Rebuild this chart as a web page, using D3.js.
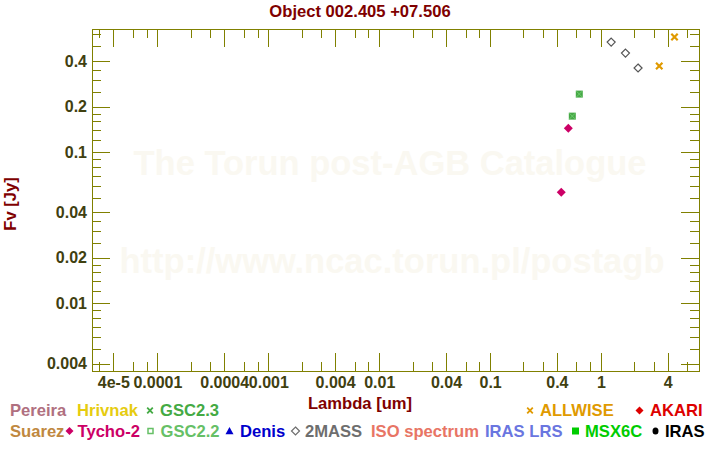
<!DOCTYPE html>
<html>
<head>
<meta charset="utf-8">
<script src="https://cdn.jsdelivr.net/npm/d3@7"></script>
<style>
  html, body { margin: 0; padding: 0; background: #ffffff; }
  svg { display: block; }
  text { font-family: "Liberation Sans", Arial, sans-serif; font-weight: bold; }
</style>
</head>
<body>
<svg id="chart" width="720" height="450"></svg>
<script>
// ---------------- data ----------------
const titleText = "Object 002.405 +07.506";
const xLabel = "Lambda [um]";
const yLabel = "Fv [Jy]";

// 2MASS (J, H, K)
const twoMassWl   = [1.235, 1.662, 2.159];
const twoMassFlux = [0.534, 0.452, 0.360];
// ALLWISE
const allwiseWl   = [3.35, 4.6];
const allwiseFlux = [0.371, 0.577];
// GSC2.3 and GSC2.2 (same points)
const gsc23Wl   = [0.551, 0.637];
const gsc23Flux = [0.173, 0.242];
const gsc22Wl   = [0.551, 0.637];
const gsc22Flux = [0.173, 0.242];
// Tycho-2
const tychoWl   = [0.438, 0.507];
const tychoFlux = [0.0543, 0.144];

// ticks
const xMajorTicks = [4e-5, 1e-4, 4e-4, 1e-3, 4e-3, 0.01, 0.04, 0.1, 0.4, 1, 4];
const xTickLabels = ["4e-5", "0.0001", "0.0004", "0.001", "0.004", "0.01", "0.04", "0.1", "0.4", "1", "4"];
const xMinorTicks = [3e-5, 6e-5, 8e-5, 2e-4, 3e-4, 6e-4, 8e-4, 2e-3, 3e-3, 6e-3, 8e-3,
                     0.02, 0.03, 0.06, 0.08, 0.2, 0.3, 0.6, 0.8, 2, 3, 6];
const yMajorTicks = [0.004, 0.01, 0.02, 0.04, 0.1, 0.2, 0.4];
const yTickLabels = ["0.004", "0.01", "0.02", "0.04", "0.1", "0.2", "0.4"];
const yMinorTicks = [0.005, 0.006, 0.007, 0.008, 0.009, 0.012, 0.014, 0.016, 0.018,
                     0.025, 0.03, 0.035, 0.05, 0.06, 0.07, 0.08, 0.09,
                     0.12, 0.14, 0.16, 0.18, 0.25, 0.3, 0.35, 0.5, 0.6];

// legend
const legendRow1Left  = ["Pereira", "Hrivnak", "GSC2.3"];
const legendRow1Right = ["ALLWISE", "AKARI"];
const legendRow2 = ["Suarez", "Tycho-2", "GSC2.2", "Denis", "2MASS", "ISO spectrum", "IRAS LRS", "MSX6C", "IRAS"];

const watermark1 = "The Torun post-AGB Catalogue";
const watermark2 = "http://www.ncac.torun.pl/postagb";

// ---------------- styles / layout ----------------
const W = 720, H = 450;
const plot = { left: 92, right: 699, top: 29, bottom: 371 };
const frameColor = "#808000";
const tickLabelColor = "#404010";
const titleColor = "#800000";
const fontSize = "16.6px";
const tickFontSize = "16px";

const legendStyle = {
  "Pereira":      { color: "#b07080", sym: null },
  "Hrivnak":      { color: "#e6cc10", sym: null },
  "GSC2.3":       { color: "#44aa44", sym: "x" },
  "ALLWISE":      { color: "#e09a00", sym: "x" },
  "AKARI":        { color: "#dd0000", sym: "diamond" },
  "Suarez":       { color: "#c08840", sym: null },
  "Tycho-2":      { color: "#cc0066", sym: "diamond" },
  "GSC2.2":       { color: "#66c066", sym: "square" },
  "Denis":        { color: "#0000cc", sym: "triangle" },
  "2MASS":        { color: "#6e6e6e", sym: "odiamond" },
  "ISO spectrum": { color: "#e87565", sym: null },
  "IRAS LRS":     { color: "#6a76e0", sym: null },
  "MSX6C":        { color: "#00cc00", sym: "fsquare" },
  "IRAS":         { color: "#000000", sym: "circle" }
};
// text start x and marker centre x for legend items
const legendLayout = {
  "Pereira": [10, null], "Hrivnak": [77, null], "GSC2.3": [160, 150],
  "ALLWISE": [540, 530], "AKARI": [650, 639.5],
  "Suarez": [10, null], "Tycho-2": [77.5, 69.5], "GSC2.2": [160.5, 150.5],
  "Denis": [240, 229.5], "2MASS": [305, 295.5], "ISO spectrum": [371, null],
  "IRAS LRS": [485, null], "MSX6C": [585, 575.5], "IRAS": [665, 655.5]
};

// ---------------- drawing ----------------
const svg = d3.select("#chart");

const x = d3.scaleLog().domain([2.57e-5, 7.65]).range([plot.left, plot.right]);
const y = d3.scaleLog().domain([0.00357, 0.652]).range([plot.bottom, plot.top]);

// watermark
const wm = svg.append("g").attr("fill", "#faf8f1").attr("font-size", "34.5px").attr("text-anchor", "middle");
wm.append("text").attr("x", 390).attr("y", 175).text(watermark1);
wm.append("text").attr("x", 392).attr("y", 273).text(watermark2);

// title and axis labels
svg.append("text").attr("x", 360).attr("y", 17).attr("text-anchor", "middle")
  .attr("fill", titleColor).attr("font-size", fontSize).text(titleText);
svg.append("text").attr("x", 360).attr("y", 409).attr("text-anchor", "middle")
  .attr("fill", titleColor).attr("font-size", fontSize).text(xLabel);
svg.append("text").attr("transform", "translate(16,204) rotate(-90)").attr("text-anchor", "middle")
  .attr("fill", titleColor).attr("font-size", fontSize).text(yLabel);

// axes (ticks inward on all four sides)
function styleAxis(g) {
  g.select(".domain").remove();
  g.selectAll(".tick line").attr("stroke", frameColor).attr("shape-rendering", "crispEdges");
  g.selectAll(".tick text").attr("fill", tickLabelColor).attr("font-size", tickFontSize)
    .attr("font-family", "'Liberation Sans', Arial, sans-serif").attr("font-weight", "bold");
}
const majLen = 18, minLen = 9;

// bottom
svg.append("g").attr("transform", `translate(0,${plot.bottom})`)
  .call(d3.axisBottom(x).tickValues(xMajorTicks).tickSizeInner(-majLen).tickSizeOuter(0)
    .tickPadding(5.5).tickFormat((d, i) => xTickLabels[i])).call(styleAxis);
svg.append("g").attr("transform", `translate(0,${plot.bottom})`)
  .call(d3.axisBottom(x).tickValues(xMinorTicks).tickSizeInner(-minLen).tickSizeOuter(0)
    .tickFormat("")).call(styleAxis);
// top
svg.append("g").attr("transform", `translate(0,${plot.top})`)
  .call(d3.axisTop(x).tickValues(xMajorTicks).tickSizeInner(-majLen).tickSizeOuter(0)
    .tickFormat("")).call(styleAxis);
svg.append("g").attr("transform", `translate(0,${plot.top})`)
  .call(d3.axisTop(x).tickValues(xMinorTicks).tickSizeInner(-minLen).tickSizeOuter(0)
    .tickFormat("")).call(styleAxis);
// left
svg.append("g").attr("transform", `translate(${plot.left},0)`)
  .call(d3.axisLeft(y).tickValues(yMajorTicks).tickSizeInner(-majLen).tickSizeOuter(0)
    .tickPadding(5).tickFormat((d, i) => yTickLabels[i])).call(styleAxis);
svg.append("g").attr("transform", `translate(${plot.left},0)`)
  .call(d3.axisLeft(y).tickValues(yMinorTicks).tickSizeInner(-minLen).tickSizeOuter(0)
    .tickFormat("")).call(styleAxis);
// right
svg.append("g").attr("transform", `translate(${plot.right},0)`)
  .call(d3.axisRight(y).tickValues(yMajorTicks).tickSizeInner(-majLen).tickSizeOuter(0)
    .tickFormat("")).call(styleAxis);
svg.append("g").attr("transform", `translate(${plot.right},0)`)
  .call(d3.axisRight(y).tickValues(yMinorTicks).tickSizeInner(-minLen).tickSizeOuter(0)
    .tickFormat("")).call(styleAxis);

// frame
svg.append("rect")
  .attr("x", plot.left + 0.5).attr("y", plot.top + 0.5)
  .attr("width", plot.right - plot.left).attr("height", plot.bottom - plot.top)
  .attr("fill", "none").attr("stroke", frameColor).attr("stroke-width", 1)
  .attr("shape-rendering", "crispEdges");

// symbol paths
function symPath(type, s) {
  switch (type) {
    case "x": return `M${-s},${-s}L${s},${s}M${-s},${s}L${s},${-s}`;
    case "diamond":
    case "odiamond": return `M0,${-s}L${s},0L0,${s}L${-s},0Z`;
    case "square":
    case "fsquare": return `M${-s},${-s}H${s}V${s}H${-s}Z`;
    case "triangle": return `M0,${-s}L${s},${s * 0.8}L${-s},${s * 0.8}Z`;
  }
  return "";
}

// data marks
const pts = (wl, fl) => wl.map((w, i) => [w, fl[i]]);

// GSC2.2 squares
svg.append("g").selectAll("path").data(pts(gsc22Wl, gsc22Flux)).join("path")
  .attr("transform", d => `translate(${x(d[0])},${y(d[1])})`)
  .attr("d", symPath("square", 3.5)).attr("fill", "#46a846").attr("stroke", "none");
// GSC2.3 crosses
svg.append("g").selectAll("path").data(pts(gsc23Wl, gsc23Flux)).join("path")
  .attr("transform", d => `translate(${x(d[0])},${y(d[1])})`)
  .attr("d", symPath("x", 3)).attr("fill", "none").attr("stroke", "#6ccb6c").attr("stroke-width", 1);
// Tycho-2 filled diamonds
svg.append("g").selectAll("path").data(pts(tychoWl, tychoFlux)).join("path")
  .attr("transform", d => `translate(${x(d[0])},${y(d[1])})`)
  .attr("d", symPath("diamond", 4.5)).attr("fill", "#cc0066");
// 2MASS open diamonds
svg.append("g").selectAll("path").data(pts(twoMassWl, twoMassFlux)).join("path")
  .attr("transform", d => `translate(${x(d[0])},${y(d[1])})`)
  .attr("d", symPath("odiamond", 4)).attr("fill", "none").attr("stroke", "#555555").attr("stroke-width", 1.2);
// ALLWISE crosses
svg.append("g").selectAll("path").data(pts(allwiseWl, allwiseFlux)).join("path")
  .attr("transform", d => `translate(${x(d[0])},${y(d[1])})`)
  .attr("d", symPath("x", 3.2)).attr("fill", "none").attr("stroke", "#e09a00").attr("stroke-width", 2.2);

// legend
const legendG = svg.append("g").attr("font-size", fontSize);
function legendItem(name, rowY) {
  const st = legendStyle[name], lay = legendLayout[name];
  legendG.append("text").attr("x", lay[0]).attr("y", rowY).attr("fill", st.color).text(name);
  if (st.sym && lay[1] != null) {
    const cy = rowY - 5.5;
    const p = legendG.append("path").attr("transform", `translate(${lay[1]},${cy})`);
    if (st.sym === "x") p.attr("d", symPath("x", 2.8)).attr("fill", "none").attr("stroke", st.color).attr("stroke-width", 1.8);
    else if (st.sym === "diamond") p.attr("d", symPath("diamond", 4)).attr("fill", st.color);
    else if (st.sym === "odiamond") p.attr("d", symPath("odiamond", 4)).attr("fill", "none").attr("stroke", st.color).attr("stroke-width", 1.2);
    else if (st.sym === "square") p.attr("d", symPath("square", 2.5)).attr("fill", "none").attr("stroke", st.color).attr("stroke-width", 1.5);
    else if (st.sym === "fsquare") p.attr("d", symPath("fsquare", 3.5)).attr("fill", st.color);
    else if (st.sym === "triangle") p.attr("d", symPath("triangle", 4)).attr("fill", st.color);
    else if (st.sym === "circle") {
      p.remove();
      legendG.append("ellipse").attr("cx", lay[1]).attr("cy", cy).attr("rx", 3).attr("ry", 3.5).attr("fill", st.color);
    }
  }
}
legendRow1Left.forEach(n => legendItem(n, 416));
legendRow1Right.forEach(n => legendItem(n, 416));
legendRow2.forEach(n => legendItem(n, 436.5));
</script>
</body>
</html>
